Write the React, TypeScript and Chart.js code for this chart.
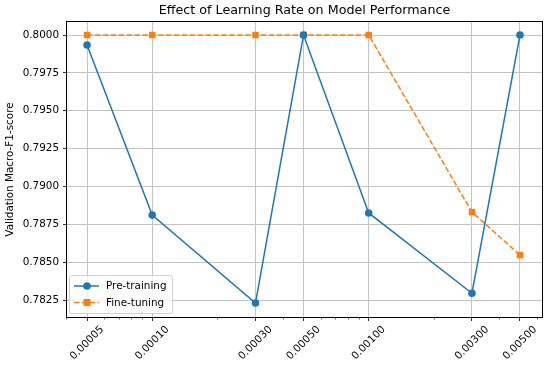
import React, { useEffect, useRef } from "react";
import { Chart, registerables } from "chart.js";

Chart.register(...registerables);

const chartTitle = "Effect of Learning Rate on Model Performance";
const learningRates = [0.00005, 0.0001, 0.0003, 0.0005, 0.001, 0.003, 0.005];
const xTickLabels = ["0.00005", "0.00010", "0.00030", "0.00050", "0.00100", "0.00300", "0.00500"];
const minorTicks = [0.00004, 0.00006, 0.00007, 0.00008, 0.00009, 0.0002, 0.0004, 0.0006, 0.0007, 0.0008, 0.0009, 0.002, 0.004, 0.006];
const preTraining = [0.79934, 0.78811, 0.7823, 0.8, 0.78825, 0.78295, 0.8];
const fineTuning = [0.8, 0.8, 0.8, 0.8, 0.8, 0.78831, 0.78547];
const yTicks = [0.7825, 0.785, 0.7875, 0.79, 0.7925, 0.795, 0.7975, 0.8];

const FONT = "'DejaVu Sans', sans-serif";
const FS = 10.4;
const GRID = "#c4c4c4";

const overlayPlugin = {
  id: "overlay",
  afterDraw(chart: any) {
    const ctx = chart.ctx;
    const { left, right, top, bottom } = chart.chartArea;
    const xs = chart.scales.x;
    ctx.save();
    // title centred over the plot area
    ctx.fillStyle = "#000";
    ctx.font = `12.7px ${FONT}`;
    ctx.textAlign = "center";
    ctx.textBaseline = "middle";
    ctx.fillText(chartTitle, (left + right) / 2, 11);
    // minor ticks
    ctx.strokeStyle = "#000";
    ctx.lineWidth = 0.6;
    minorTicks.forEach((v) => {
      const px = Math.round(xs.getPixelForValue(v)) + 0.5;
      if (px < left - 0.5 || px > right + 0.5) return;
      ctx.beginPath();
      ctx.moveTo(px, bottom);
      ctx.lineTo(px, bottom + 2.5);
      ctx.stroke();
    });
    // x tick labels rotated 45, centred on tick
    ctx.fillStyle = "#000";
    ctx.font = `${FS}px ${FONT}`;
    ctx.textAlign = "center";
    ctx.textBaseline = "middle";
    learningRates.forEach((v, i) => {
      const px = xs.getPixelForValue(v);
      ctx.save();
      ctx.translate(px, bottom + 26);
      ctx.rotate(-Math.PI / 4);
      ctx.fillText(xTickLabels[i], 0, 0);
      ctx.restore();
    });
    // frame
    ctx.strokeStyle = "#000";
    ctx.lineWidth = 1;
    ctx.strokeRect(Math.round(left) - 0.5, Math.round(top) - 0.5, Math.round(right - left) + 1, Math.round(bottom - top) + 1);
    // legend
    const bx = left + 2, by = bottom - 42, bw = 103, bh = 38;
    ctx.fillStyle = "rgba(255,255,255,0.8)";
    ctx.strokeStyle = "#d0d0d0";
    ctx.lineWidth = 1;
    ctx.beginPath();
    ctx.roundRect(bx + 0.5, by + 0.5, bw, bh, 2);
    ctx.fill();
    ctx.stroke();
    const entries = [
      { label: "Pre-training", color: "#1f77b4", dash: [] as number[], shape: "circle" },
      { label: "Fine-tuning", color: "#ff7f0e", dash: [5.5, 2.4], shape: "square" },
    ];
    entries.forEach((e, i) => {
      const ly = by + 11 + i * 16.5;
      ctx.strokeStyle = e.color;
      ctx.lineWidth = 1.5;
      ctx.setLineDash(e.dash);
      ctx.beginPath();
      ctx.moveTo(bx + 5, ly);
      ctx.lineTo(bx + 30, ly);
      ctx.stroke();
      ctx.setLineDash([]);
      ctx.fillStyle = e.color;
      if (e.shape === "circle") {
        ctx.beginPath();
        ctx.arc(bx + 18, ly, 3.8, 0, Math.PI * 2);
        ctx.fill();
      } else {
        ctx.fillRect(bx + 14.5, ly - 3.5, 7, 7);
      }
      ctx.fillStyle = "#000";
      ctx.font = `${FS}px ${FONT}`;
      ctx.textAlign = "left";
      ctx.textBaseline = "middle";
      ctx.fillText(e.label, bx + 37, ly + 0.5);
    });
    ctx.restore();
  },
};

export default function App() {
  const ref = useRef<HTMLCanvasElement>(null);
  useEffect(() => {
    document.body.style.margin = "0";
    const chart = new Chart(ref.current!, {
      type: "line",
      data: {
        datasets: [
          {
            label: "Pre-training",
            data: learningRates.map((x, i) => ({ x, y: preTraining[i] })),
            borderColor: "#1f77b4",
            backgroundColor: "#1f77b4",
            borderWidth: 1.5,
            pointStyle: "circle",
            pointRadius: 3.8,
            pointBorderWidth: 0,
            tension: 0,
          },
          {
            label: "Fine-tuning",
            data: learningRates.map((x, i) => ({ x, y: fineTuning[i] })),
            borderColor: "#ff7f0e",
            backgroundColor: "#ff7f0e",
            borderWidth: 1.5,
            borderDash: [5.5, 2.4],
            pointStyle: "rect",
            pointRadius: 4.6,
            pointBorderWidth: 0,
            tension: 0,
          },
        ],
      },
      options: {
        animation: false,
        responsive: false,
        layout: { padding: { left: 0, right: 8, top: 22, bottom: 0 } },
        plugins: {
          legend: { display: false },
          tooltip: { enabled: false },
          title: { display: false },
        },
        scales: {
          x: {
            type: "logarithmic",
            min: 0.0000404,
            max: 0.00632,
            afterBuildTicks: (scale: any) => {
              scale.ticks = learningRates.map((v) => ({ value: v }));
            },
            afterFit: (scale: any) => {
              scale.height = 48;
            },
            ticks: { display: false, autoSkip: false },
            grid: {
              color: GRID,
              lineWidth: 1,
              drawTicks: true,
              tickLength: 4,
              tickColor: "#000",
              tickWidth: 0.8,
            },
            border: { display: false },
          },
          y: {
            type: "linear",
            min: 0.78138,
            max: 0.80086,
            afterBuildTicks: (scale: any) => {
              scale.ticks = yTicks.map((v) => ({ value: v }));
            },
            afterFit: (scale: any) => {
              scale.width = 67;
            },
            ticks: {
              color: "#000",
              font: { family: FONT, size: FS },
              padding: 4,
              callback: (v: any) => Number(v).toFixed(4),
            },
            grid: {
              color: GRID,
              lineWidth: 1,
              drawTicks: true,
              tickLength: 4,
              tickColor: "#000",
              tickWidth: 0.8,
            },
            border: { display: false },
            title: {
              display: true,
              text: "Validation Macro-F1-score",
              color: "#000",
              font: { family: FONT, size: FS },
              padding: { top: 4, bottom: 0 },
            },
          },
        },
      },
      plugins: [overlayPlugin],
    });
    return () => chart.destroy();
  }, []);
  return (
    <div style={{ position: "absolute", left: 0, top: 0, width: 550, height: 365 }}>
      <canvas ref={ref} width={550} height={365} style={{ display: "block", width: 550, height: 365 }} />
    </div>
  );
}
